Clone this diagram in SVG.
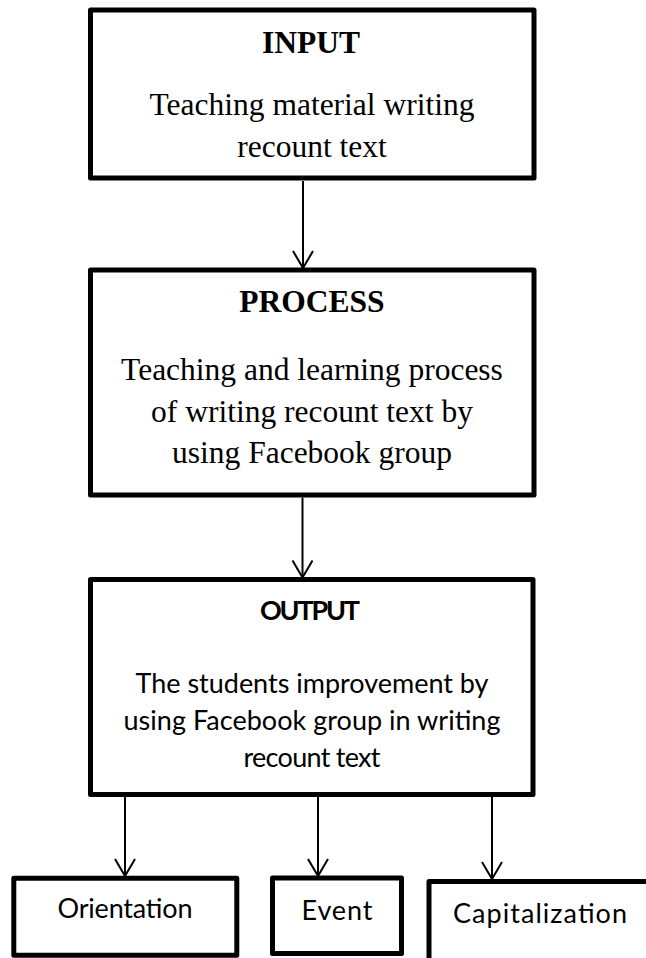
<svg xmlns="http://www.w3.org/2000/svg" width="646" height="958" viewBox="0 0 646 958">
  <defs>
    <style>
      .box { fill: #ffffff; stroke: #000000; stroke-width: 5; stroke-linejoin: round; }
      .wire { fill: none; stroke: #000000; stroke-width: 2; }
      .serif { font-family: "Liberation Serif", "Times New Roman", serif; font-size: 31.5px; fill: #000000; text-anchor: middle; }
      .serif-b { font-weight: bold; }
      .sans { font-family: Lato, "Open Sans", "Liberation Sans", sans-serif; font-size: 27px; fill: #000000; text-anchor: middle; }
      .sans-b { font-weight: bold; }
    </style>
    <marker id="openArrow" viewBox="-19 -12 21 24" refX="0" refY="0" markerWidth="21" markerHeight="24" markerUnits="userSpaceOnUse" orient="auto" overflow="visible">
      <path d="M -17 -10 L 0 0 L -17 10" fill="none" stroke="#000000" stroke-width="2" stroke-linejoin="miter"/>
    </marker>
  </defs>

  <rect width="646" height="958" fill="#ffffff"/>

  <!-- connectors -->
  <g id="connectors">
    <line class="wire" x1="303" y1="181" x2="303" y2="268" marker-end="url(#openArrow)"/>
    <line class="wire" x1="302.5" y1="497.5" x2="302.5" y2="577.5" marker-end="url(#openArrow)"/>
    <line class="wire" x1="125" y1="797" x2="125" y2="876" marker-end="url(#openArrow)"/>
    <line class="wire" x1="318" y1="797" x2="318" y2="876" marker-end="url(#openArrow)"/>
    <line class="wire" x1="492" y1="797" x2="492" y2="879" marker-end="url(#openArrow)"/>
  </g>

  <!-- input stage -->
  <g id="input">
    <rect class="box" x="90.5" y="10" width="443.5" height="168"/>
    <text class="serif serif-b" x="311" y="53">INPUT</text>
    <text class="serif" x="312" y="115">Teaching material writing</text>
    <text class="serif" x="312" y="157">recount text</text>
  </g>

  <!-- process stage -->
  <g id="process">
    <rect class="box" x="90.5" y="270" width="443.5" height="225"/>
    <text class="serif serif-b" x="312" y="312">PROCESS</text>
    <text class="serif" x="312" y="380">Teaching and learning process</text>
    <text class="serif" x="312" y="422">of writing recount text by</text>
    <text class="serif" x="312" y="463">using Facebook group</text>
  </g>

  <!-- output stage -->
  <g id="output">
    <rect class="box" x="90.5" y="579.5" width="442.5" height="215"/>
    <text class="sans sans-b" x="310" y="620" textLength="100">OUTPUT</text>
    <text class="sans" x="312" y="693" textLength="353">The students improvement by</text>
    <text class="sans" x="312" y="730" textLength="377">using Facebook group in writing</text>
    <text class="sans" x="312" y="767" textLength="137">recount text</text>
  </g>

  <!-- writing aspects -->
  <g id="orientation">
    <rect class="box" x="13.8" y="878.3" width="223" height="77"/>
    <text class="sans" x="125" y="918" textLength="135">Orientation</text>
  </g>

  <g id="event">
    <rect class="box" x="272.5" y="878" width="129" height="75.5"/>
    <text class="sans" x="337" y="920" textLength="71">Event</text>
  </g>

  <g id="capitalization">
    <rect class="box" x="429" y="881.5" width="230" height="82"/>
    <text class="sans" x="540" y="923" font-size="28" textLength="174">Capitalization</text>
  </g>
</svg>
